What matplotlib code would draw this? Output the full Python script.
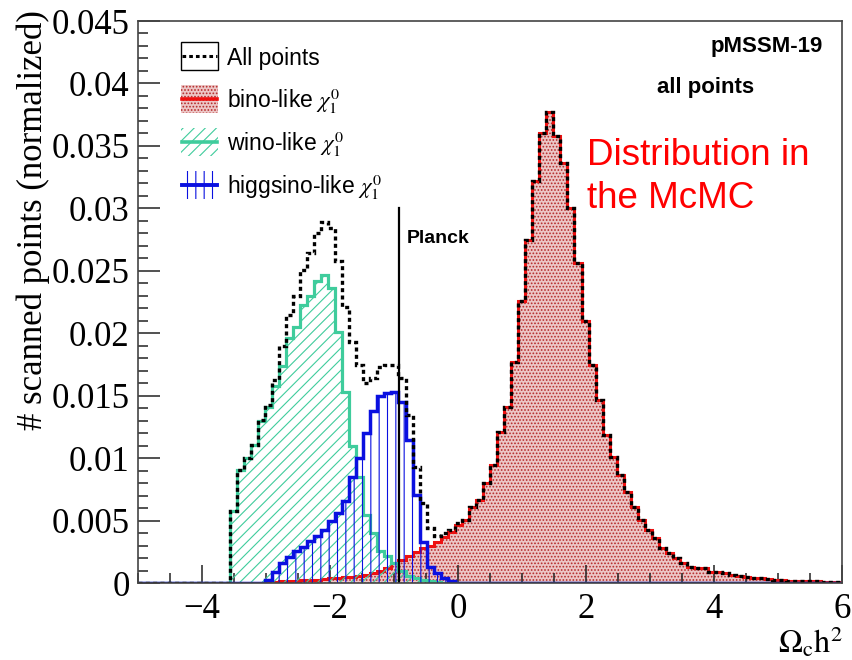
import numpy as np
import matplotlib
matplotlib.use('Agg')
import matplotlib.pyplot as plt
from matplotlib.patches import Rectangle
from matplotlib.lines import Line2D
from matplotlib.ticker import MultipleLocator, FixedLocator, FixedFormatter

# ---------------- data ----------------
x_lo, x_hi, n_bins = -5.0, 6.0, 100

bino = [
    0, 0, 0, 0, 0, 0, 0, 0, 0, 0,
    0, 0, 0, 0, 0, 0, 0, 0, 0.0001, 0.0001,
    0.00015, 0.0002, 0.0002, 0.00025, 0.0003, 0.0003, 0.00035, 0.0004, 0.0004, 0.0005,
    0.0005, 0.0006, 0.0007, 0.0008, 0.0010, 0.0012, 0.0016, 0.0019, 0.0022, 0.0025,
    0.0028, 0.0030, 0.0033, 0.0037, 0.0041, 0.0047, 0.0051, 0.0061, 0.0067, 0.0080,
    0.0095, 0.0121, 0.0141, 0.0177, 0.0226, 0.0275, 0.0322, 0.0360, 0.0377, 0.0358,
    0.0336, 0.0300, 0.0256, 0.0210, 0.0175, 0.0147, 0.0119, 0.0101, 0.0087, 0.0073,
    0.0061, 0.0051, 0.0043, 0.0036, 0.0028, 0.0024, 0.0020, 0.0016, 0.0013, 0.0012,
    0.0012, 0.0009, 0.0009, 0.0008, 0.0007, 0.0006, 0.0005, 0.00045, 0.0004, 0.00035,
    0.0003, 0.00027, 0.00022, 0.0002, 0.00018, 0.00016, 0.00015, 0.00013, 0.00012, 0.0001,
]

wino = [
    0, 0, 0, 0, 0, 0, 0, 0, 0, 0,
    0, 0, 0, 0.0058, 0.0091, 0.0100, 0.0111, 0.0130, 0.0141, 0.0158,
    0.0174, 0.0196, 0.0205, 0.0223, 0.0230, 0.0242, 0.0247, 0.0236, 0.0201, 0.0153,
    0.0110, 0.0085, 0.0055, 0.0040, 0.0026, 0.0022, 0.0016, 0.0010, 0.0006, 0.0004,
    0.0003, 0.0002, 0.0001, 0.00005, 0, 0, 0, 0, 0, 0,
    0, 0, 0, 0, 0, 0, 0, 0, 0, 0,
    0, 0, 0, 0, 0, 0, 0, 0, 0, 0,
    0, 0, 0, 0, 0, 0, 0, 0, 0, 0,
    0, 0, 0, 0, 0, 0, 0, 0, 0, 0,
    0, 0, 0, 0, 0, 0, 0, 0, 0, 0,
]

higgsino = [
    0, 0, 0, 0, 0, 0, 0, 0, 0, 0,
    0, 0, 0, 0, 0, 0, 0, 0, 0.0003, 0.0009,
    0.0016, 0.0021, 0.0026, 0.0029, 0.0034, 0.0038, 0.0043, 0.0050, 0.0056, 0.0066,
    0.0085, 0.0100, 0.0120, 0.0138, 0.0150, 0.0152, 0.0153, 0.0145, 0.0115, 0.0071,
    0.0033, 0.0013, 0.0008, 0.0004, 0.00015, 0, 0, 0, 0, 0,
    0, 0, 0, 0, 0, 0, 0, 0, 0, 0,
    0, 0, 0, 0, 0, 0, 0, 0, 0, 0,
    0, 0, 0, 0, 0, 0, 0, 0, 0, 0,
    0, 0, 0, 0, 0, 0, 0, 0, 0, 0,
    0, 0, 0, 0, 0, 0, 0, 0, 0, 0,
]

all_pts = [
    0, 0, 0, 0, 0, 0, 0, 0, 0, 0,
    0, 0, 0, 0.0058, 0.0091, 0.0100, 0.0111, 0.0131, 0.0143, 0.0163,
    0.0190, 0.0215, 0.0230, 0.0251, 0.0264, 0.0280, 0.0289, 0.0284, 0.0258, 0.0221,
    0.0193, 0.0175, 0.0160, 0.0164, 0.0173, 0.0175, 0.0175, 0.0164, 0.0135, 0.0093,
    0.0064, 0.0044, 0.0038, 0.0040, 0.0043, 0.0048, 0.0051, 0.0061, 0.0067, 0.0080,
    0.0095, 0.0121, 0.0141, 0.0177, 0.0226, 0.0275, 0.0322, 0.0360, 0.0377, 0.0358,
    0.0336, 0.0300, 0.0256, 0.0210, 0.0175, 0.0147, 0.0119, 0.0101, 0.0087, 0.0073,
    0.0061, 0.0051, 0.0043, 0.0036, 0.0028, 0.0024, 0.0020, 0.0016, 0.0013, 0.0012,
    0.0012, 0.0009, 0.0009, 0.0008, 0.0007, 0.0006, 0.0005, 0.00045, 0.0004, 0.00035,
    0.0003, 0.00027, 0.00022, 0.0002, 0.00018, 0.00016, 0.00015, 0.00013, 0.00012, 0.0001,
]

planck_x = -0.92
planck_top = 0.030

x_ticks = [-4, -2, 0, 2, 4, 6]
x_tick_labels = ['\u22124', '\u22122', '0', '2', '4', '6']
y_ticks = [0, 0.005, 0.01, 0.015, 0.02, 0.025, 0.03, 0.035, 0.04, 0.045]
y_tick_labels = ['0', '0.005', '0.01', '0.015', '0.02', '0.025', '0.03', '0.035', '0.04', '0.045']

legend_labels = ['All points', 'bino-like $\\chi_1^0$', 'wino-like $\\chi_1^0$', 'higgsino-like $\\chi_1^0$']

# ---------------- style ----------------
RED = '#ee1111'
GREEN = '#3fcc9c'
BLUE = '#0a10e0'
BINO_FACE = '#ecc6c6'
BINO_DOT = '#b52a2a'
DOT = (0, (1.2, 1.0))

plt.rcParams['font.family'] = ['Liberation Serif', 'DejaVu Serif']
plt.rcParams['mathtext.fontset'] = 'stix'
plt.rcParams['hatch.linewidth'] = 0.8

W, H = 852, 660
fig = plt.figure(figsize=(W / 100, H / 100), dpi=100)


def fx(x):
    return x / W


def fy(y):
    return 1 - y / H


ax = fig.add_axes([fx(138), fy(583.3), 704 / W, 562.3 / H])
edges = np.linspace(x_lo, x_hi, n_bins + 1)

ax.stairs(bino, edges, fill=True, facecolor=BINO_FACE, edgecolor=BINO_DOT,
          hatch='.....', linewidth=0, zorder=1)
ax.stairs(bino, edges, color=RED, lw=2.2, zorder=2)
ax.stairs(wino, edges, fill=True, facecolor='none', edgecolor=GREEN,
          hatch='///', linewidth=0, zorder=3)
ax.stairs(wino, edges, color=GREEN, lw=2.3, zorder=4)
ax.stairs(higgsino, edges, fill=True, facecolor='none', edgecolor=BLUE,
          hatch='||', linewidth=0, zorder=5)
ax.stairs(higgsino, edges, color=BLUE, lw=2.5, zorder=6)
ax.stairs(all_pts, edges, color='black', lw=2.4, linestyle=DOT, zorder=7)
ax.plot([planck_x, planck_x], [0, planck_top], color='black', lw=1.6, zorder=8)

ax.set_xlim(x_lo, x_hi)
ax.set_ylim(0, 0.045)
ax.xaxis.set_major_locator(FixedLocator(x_ticks))
ax.xaxis.set_major_formatter(FixedFormatter(x_tick_labels))
ax.xaxis.set_minor_locator(MultipleLocator(0.5))
ax.yaxis.set_major_locator(FixedLocator(y_ticks))
ax.yaxis.set_major_formatter(FixedFormatter(y_tick_labels))
ax.yaxis.set_minor_locator(MultipleLocator(0.001))
ax.tick_params(which='both', direction='in', top=False, right=False, color='#222222')
ax.tick_params(axis='x', which='major', length=13, width=1.1, labelsize=25, pad=7)
ax.tick_params(axis='x', which='minor', length=7, width=1.1)
ax.tick_params(axis='y', which='major', length=16, width=1.1, labelsize=25, pad=6)
ax.tick_params(axis='y', which='minor', length=7.5, width=1.1)
for s in ax.spines.values():
    s.set_color('#444444')
    s.set_linewidth(1.2)
    s.set_zorder(10)

# axis titles
fig.text(fx(33), fy(10), '# scanned points (normalized)', rotation=90,
         ha='center', va='top', fontsize=25, family=['Liberation Serif'])
fig.text(fx(843), fy(653), '$\\Omega_{\\mathrm{c}}\\mathrm{h}^{2}$', ha='right',
         va='baseline', fontsize=23)

# annotations
SANS = ['Liberation Sans', 'DejaVu Sans']
fig.text(fx(823), fy(52), 'pMSSM-19', ha='right', va='baseline', fontsize=16,
         fontweight='bold', family=SANS)
fig.text(fx(657), fy(93), 'all points', ha='left', va='baseline', fontsize=16,
         fontweight='bold', family=SANS)
fig.text(fx(407), fy(243), 'Planck', ha='left', va='baseline', fontsize=14,
         fontweight='bold', family=SANS)
fig.text(fx(587), fy(165), 'Distribution in', ha='left', va='baseline',
         fontsize=26.5, color='#ff0000', family=SANS)
fig.text(fx(587), fy(208), 'the McMC', ha='left', va='baseline',
         fontsize=26.5, color='#ff0000', family=SANS)

# legend (drawn manually, ROOT style)
row_c = [56, 99, 142, 185]
bx0, bx1, bh = 181, 218, 28
styles = [
    dict(face='white', edge='black', hatch=None, line='black', ls=DOT, lw=2.2, border=1.0),
    dict(face=BINO_FACE, edge=BINO_DOT, hatch='.....', line=RED, ls='-', lw=2.6, border=0),
    dict(face='none', edge=GREEN, hatch='///', line=GREEN, ls='-', lw=2.6, border=0),
    dict(face='none', edge=BLUE, hatch='||', line=BLUE, ls='-', lw=2.8, border=0),
]
for c, lab, st in zip(row_c, legend_labels, styles):
    r = Rectangle((fx(bx0), fy(c + bh / 2)), (bx1 - bx0) / W, bh / H,
                  transform=fig.transFigure, facecolor=st['face'],
                  edgecolor=st['edge'], hatch=st['hatch'], linewidth=st['border'])
    fig.add_artist(r)
    ln = Line2D([fx(bx0 + 1), fx(bx1 - 1)], [fy(c), fy(c)], transform=fig.transFigure,
                color=st['line'], lw=st['lw'], linestyle=st['ls'])
    fig.add_artist(ln)
    fig.text(fx(227), fy(c + 9), lab, ha='left', va='baseline', fontsize=16.5,
             family=SANS)

fig.savefig('out.png', dpi=100)
